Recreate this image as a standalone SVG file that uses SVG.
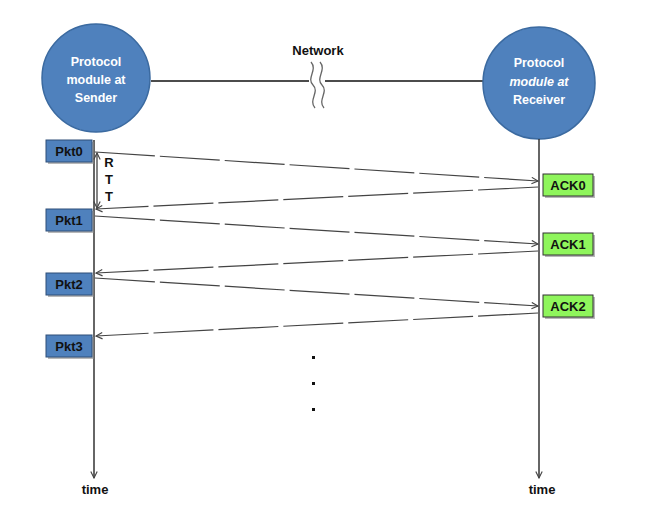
<svg xmlns="http://www.w3.org/2000/svg" width="647" height="514" viewBox="0 0 647 514">
<defs>
<style>
.mod{fill:#4f81bd;stroke:#3b6aa0;stroke-width:1.5}
.mt{font-family:"Liberation Sans",Arial,sans-serif;font-weight:bold;font-size:12.5px;fill:#fff;text-anchor:middle}
.lbl{font-family:"Liberation Sans",Arial,sans-serif;font-weight:bold;font-size:13px;fill:#111;text-anchor:middle}
.pkt{fill:#4f81bd;stroke:#2f4f78;stroke-width:1}
.ack{fill:#8ff55c;stroke:#333;stroke-width:1}
.tl{stroke:#333;stroke-width:1.5;fill:none}
.msg{stroke:#444;stroke-width:1.2;fill:none;stroke-dasharray:60 5}
.shadow{fill:#888;opacity:0.6}
</style>
<marker id="ah" viewBox="0 0 10 10" refX="9" refY="5" markerWidth="8" markerHeight="8" orient="auto-start-reverse" markerUnits="userSpaceOnUse">
<path d="M1,1 L9,5 L1,9" fill="none" stroke="#444" stroke-width="1.4"/>
</marker>
</defs>
<rect width="647" height="514" fill="#fff"/>

<g id="network">
<line x1="151" y1="81" x2="483" y2="81" stroke="#111" stroke-width="1.6"/>
<rect x="309" y="70" width="16" height="24" fill="#fff"/>
<path d="M311,62 C318,70 306,78 313,85 C320,92 308,100 315,108" fill="none" stroke="#666" stroke-width="1.3"/>
<path d="M320,62 C327,70 315,78 322,85 C329,92 317,100 324,108" fill="none" stroke="#666" stroke-width="1.3"/>
<text x="318" y="55" class="lbl" font-size="14.5">Network</text>
</g>

<g id="sender">
<circle cx="96" cy="78" r="54" class="mod"/>
<text x="96" y="66" class="mt">Protocol</text>
<text x="96" y="84" class="mt">module at</text>
<text x="96" y="102" class="mt">Sender</text>
</g>

<g id="receiver">
<circle cx="539" cy="83" r="56" class="mod"/>
<text x="539" y="67" class="mt">Protocol</text>
<text x="539" y="86" class="mt" font-style="italic" font-weight="normal">module at</text>
<text x="539" y="104" class="mt">Receiver</text>
</g>

<g id="timelines">
<line x1="94" y1="140" x2="94" y2="478" class="tl" marker-end="url(#ah)"/>
<line x1="539" y1="139" x2="539" y2="478" class="tl" marker-end="url(#ah)"/>
<text x="95" y="494" class="lbl" font-size="14.5">time</text>
<text x="542" y="494" class="lbl" font-size="14.5">time</text>
</g>

<g id="pkt0"><rect x="48" y="142" width="46" height="22" class="shadow"/><rect x="46" y="140" width="46" height="22" class="pkt"/><text x="69" y="155.5" class="lbl">Pkt0</text></g>
<g id="pkt1"><rect x="48" y="211" width="46" height="22" class="shadow"/><rect x="46" y="209" width="46" height="22" class="pkt"/><text x="69" y="224.5" class="lbl">Pkt1</text></g>
<g id="pkt2"><rect x="48" y="275" width="46" height="22" class="shadow"/><rect x="46" y="273" width="46" height="22" class="pkt"/><text x="69" y="288.5" class="lbl">Pkt2</text></g>
<g id="pkt3"><rect x="48" y="337" width="46" height="22" class="shadow"/><rect x="46" y="335" width="46" height="22" class="pkt"/><text x="69" y="350.5" class="lbl">Pkt3</text></g>

<g id="ack0"><rect x="545" y="176" width="50" height="22" class="shadow"/><rect x="543" y="174" width="50" height="22" class="ack"/><text x="568" y="189.5" class="lbl">ACK0</text></g>
<g id="ack1"><rect x="545" y="235" width="50" height="22" class="shadow"/><rect x="543" y="233" width="50" height="22" class="ack"/><text x="568" y="248.5" class="lbl">ACK1</text></g>
<g id="ack2"><rect x="545" y="297" width="50" height="22" class="shadow"/><rect x="543" y="295" width="50" height="22" class="ack"/><text x="568" y="310.5" class="lbl">ACK2</text></g>

<g id="connectors">
<line x1="95" y1="152" x2="538" y2="181" class="msg" marker-end="url(#ah)"/>
<line x1="538" y1="187" x2="96" y2="209" class="msg" marker-end="url(#ah)"/>
<line x1="95" y1="216" x2="538" y2="244" class="msg" marker-end="url(#ah)"/>
<line x1="538" y1="251" x2="96" y2="273" class="msg" marker-end="url(#ah)"/>
<line x1="95" y1="278" x2="538" y2="306" class="msg" marker-end="url(#ah)"/>
<line x1="538" y1="313" x2="96" y2="336" class="msg" marker-end="url(#ah)"/>
<line x1="97" y1="153" x2="97" y2="208" stroke="#333" stroke-width="1.2" marker-start="url(#ah)" marker-end="url(#ah)"/>
</g>

<g id="rtt">
<text x="109" y="167" class="lbl" font-size="14">R</text>
<text x="109" y="184" class="lbl" font-size="14">T</text>
<text x="109" y="201" class="lbl" font-size="14">T</text>
</g>

<g id="dots" fill="#111">
<rect x="312" y="356" width="3" height="3"/>
<rect x="312" y="382" width="3" height="3"/>
<rect x="312" y="408" width="3" height="3"/>
</g>
</svg>
